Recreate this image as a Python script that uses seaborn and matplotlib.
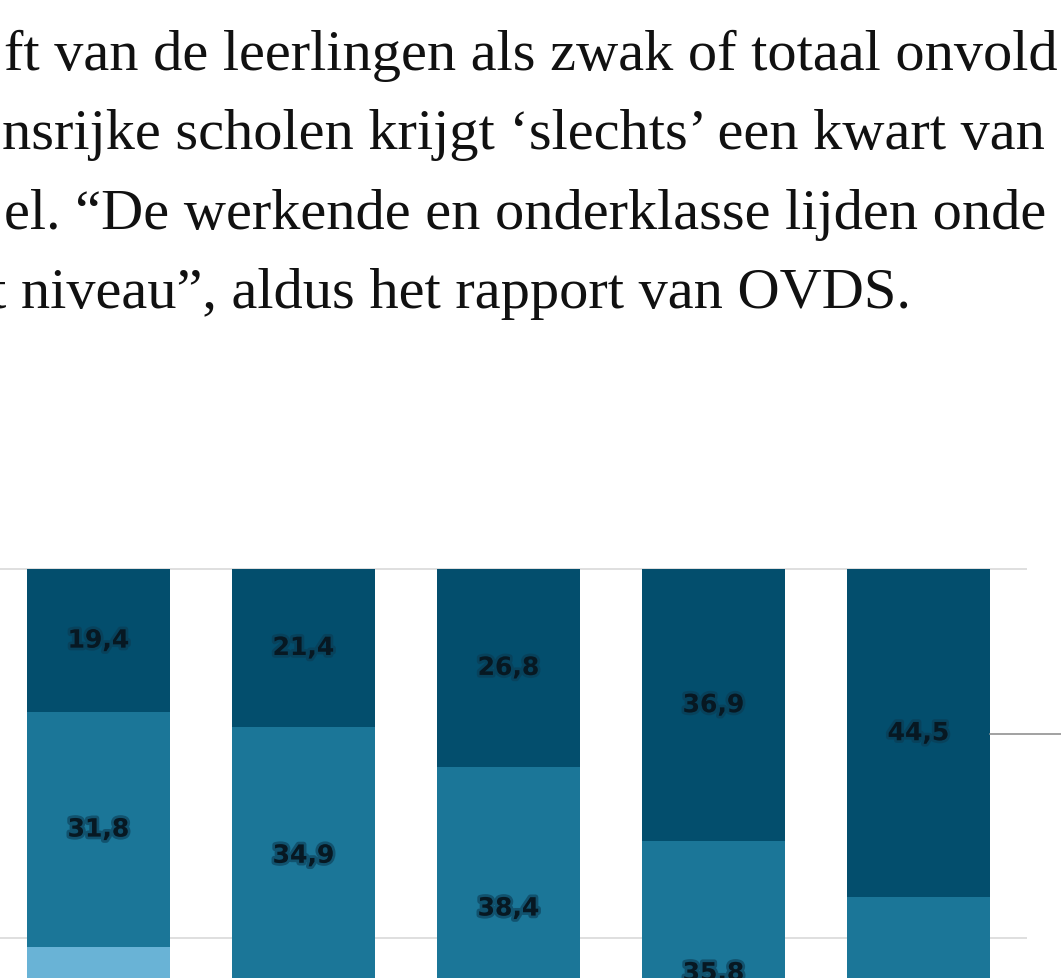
import numpy as np
import pandas as pd
import matplotlib
matplotlib.use('Agg')
import matplotlib.pyplot as plt
import matplotlib.patheffects as pe
import seaborn as sns

# article text lines (cropped screenshot of a web page)
text_lines = [
    "ft van de leerlingen als zwak of totaal onvold",
    "nsrijke scholen krijgt \u2018slechts\u2019 een kwart van",
    "el. \u201cDe werkende en onderklasse lijden onde",
    "t niveau\u201d, aldus het rapport van OVDS.",
]

# stacked bar data (percentages), five groups
groups = ["1", "2", "3", "4", "5"]
top_vals = [19.4, 21.4, 26.8, 36.9, 44.5]    # darkest, top segment
mid_vals = [31.8, 34.9, 38.4, 35.8, 33.0]    # middle segment
low_vals = [48.8, 43.7, 34.8, 27.3, 22.5]    # light, bottom segment

c_top = "#034e6d"
c_mid = "#1b7698"
c_low = "#69b3d6"

sns.set_theme(style="white")
fig = plt.figure(figsize=(10.61, 9.79), dpi=100)

# --- article text ---
baselines = [70, 149, 229, 308]
xs = [4, 2, 4, -10]
for line, yb, x0 in zip(text_lines, baselines, xs):
    fig.text(x0 / 1061, 1 - yb / 979, line, family="Liberation Serif",
             fontsize=42, color="#111111", va="baseline", ha="left")

# --- chart ---
ax = fig.add_axes([0, 0, 1027 / 1061, (979 - 560) / 979])
df = pd.DataFrame({"group": groups, "low": low_vals, "mid": mid_vals, "top": top_vals})
df["low_mid"] = df["low"] + df["mid"]
df["total"] = df["low_mid"] + df["top"]

ymin = 100 - (979 - 570) / 7.38
ymax = 100 + 10 / 7.38

ax.set_axisbelow(True)
for y in [50, 100]:
    ax.axhline(y, color="#dcdcdc", lw=1.3, zorder=0)

sns.barplot(data=df, x="group", y="total", color=c_top, width=0.7,
            saturation=1, edgecolor="none", ax=ax)
sns.barplot(data=df, x="group", y="low_mid", color=c_mid, width=0.7,
            saturation=1, edgecolor="none", ax=ax)
sns.barplot(data=df, x="group", y="low", color=c_low, width=0.7,
            saturation=1, edgecolor="none", ax=ax)

halo = [pe.withStroke(linewidth=4, foreground="#0b3a52", alpha=0.6)]
for i, row in df.iterrows():
    for val, base in [(row["top"], row["low_mid"]), (row["mid"], row["low"])]:
        yc = base + val / 2
        if yc < ymin:
            continue  # label falls below the visible crop
        ax.text(i, yc, f"{val:.1f}".replace(".", ","),
                ha="center", va="center", fontsize=18, fontweight="bold",
                color="#071822", path_effects=halo, zorder=5)

# thin leader line at the right
ax.plot([4.35, 4.9], [77.6, 77.6], color="#9a9a9a", lw=1.3, clip_on=False)

ax.set_xlim(-0.48, 4.53)
ax.set_ylim(ymin, ymax)
ax.set_xlabel("")
ax.set_ylabel("")
ax.set_xticks([])
ax.set_yticks([])
for s in ax.spines.values():
    s.set_visible(False)
ax.patch.set_alpha(0)

fig.savefig("out.png", dpi=100)
